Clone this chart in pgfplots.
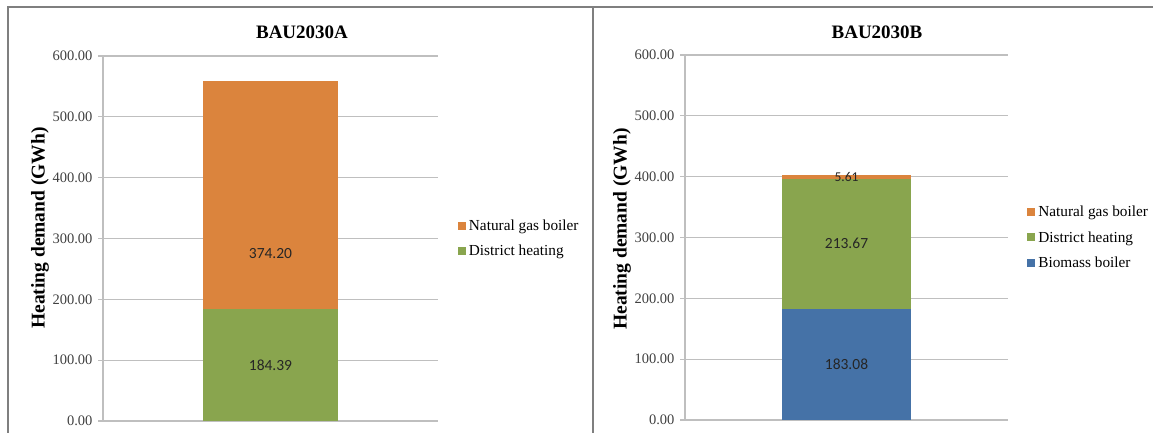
\documentclass[border=0pt]{standalone}
\usepackage{fontspec}
\setmainfont{Liberation Serif}
\newfontfamily\labelfont{Carlito}
\usepackage{pgfplots}
\pgfplotsset{compat=1.18}

\definecolor{gasorange}{HTML}{DB843D}
\definecolor{dhgreen}{HTML}{89A54E}
\definecolor{bioblue}{HTML}{4572A7}
\definecolor{gridgray}{HTML}{BFBFBF}
\definecolor{ticktext}{HTML}{404040}
\definecolor{panelframe}{HTML}{7F7F7F}

\tikzset{
  seglabel/.style={font=\labelfont\fontsize{15.5bp}{18bp}\selectfont, text=black!85},
}

\pgfplotsset{
  demandaxis/.style={
    scale only axis,
    height=365bp,
    ybar stacked,
    xmin=-1, xmax=1,
    ymin=0, ymax=600,
    ytick={0,100,...,600},
    xtick=\empty,
    axis x line=bottom,
    axis y line=left,
    axis line style={-, color=gridgray, line width=1.3bp},
    ymajorgrids,
    grid style={color=gridgray, line width=1.3bp},
    tick align=outside,
    major tick length=5bp,
    tick style={color=gridgray, line width=1.3bp},
    yticklabel style={
      /pgf/number format/.cd, fixed, fixed zerofill, precision=2, assume math mode=true,
      /tikz/.cd, font=\fontsize{14.5bp}{17bp}\selectfont, text=ticktext, xshift=-2bp},
    legend style={draw=none, fill=none, anchor=west,
      font=\fontsize{15.3bp}{18bp}\selectfont, row sep=9bp,
      nodes={inner xsep=3bp}},
    legend cell align=left,
    reverse legend,
    legend image code/.code={\fill[##1] (0bp,-4bp) rectangle (8bp,4bp);},
  },
}

\begin{document}
\begin{tikzpicture}[x=1bp, y=1bp]
\useasboundingbox (0,0) rectangle (1154,433);

% panel frames
\draw[panelframe, line width=1.2bp] (8,0) -- (8,426) -- (1153,426);
\draw[panelframe, line width=1.2bp] (593,0) -- (593,426);

% panel titles and axis titles
\node[font=\bfseries\fontsize{19bp}{22bp}\selectfont] at (302,401) {BAU2030A};
\node[font=\bfseries\fontsize{19bp}{22bp}\selectfont] at (877,401) {BAU2030B};
\node[rotate=90, font=\bfseries\fontsize{19.5bp}{22bp}\selectfont] at (40,205) {Heating demand (GWh)};
\node[rotate=90, font=\bfseries\fontsize{19.5bp}{22bp}\selectfont] at (622,204) {Heating demand (GWh)};

% BAU2030A
\begin{axis}[demandaxis, at={(103bp,12bp)}, anchor=south west,
  width=335bp, bar width=135bp,
  legend style={at={(1.050,0.50)}}]
\addplot[fill=dhgreen, draw=none] coordinates {(0,184.39)};
\addlegendentry{District heating}
\addplot[fill=gasorange, draw=none] coordinates {(0,374.20)};
\addlegendentry{Natural gas boiler}
\coordinate (a-dh) at (axis cs:0,92.2);
\coordinate (a-ng) at (axis cs:0,276);
\end{axis}
\node[seglabel] at (a-dh) {184.39};
\node[seglabel] at (a-ng) {374.20};

% BAU2030B
\begin{axis}[demandaxis, at={(685bp,13bp)}, anchor=south west,
  width=323bp, bar width=129bp,
  legend style={at={(1.050,0.50)}}]
\addplot[fill=bioblue, draw=none] coordinates {(0,183.08)};
\addlegendentry{Biomass boiler}
\addplot[fill=dhgreen, draw=none] coordinates {(0,213.67)};
\addlegendentry{District heating}
\addplot[fill=gasorange, draw=none] coordinates {(0,5.61)};
\addlegendentry{Natural gas boiler}
\coordinate (b-bio) at (axis cs:0,91.5);
\coordinate (b-dh) at (axis cs:0,289.9);
\coordinate (b-ng) at (axis cs:0,399.6);
\end{axis}
\node[seglabel] at (b-bio) {183.08};
\node[seglabel] at (b-dh) {213.67};
\node[seglabel, font=\labelfont\fontsize{13.5bp}{16bp}\selectfont] at (b-ng) {5.61};
\end{tikzpicture}
\end{document}
